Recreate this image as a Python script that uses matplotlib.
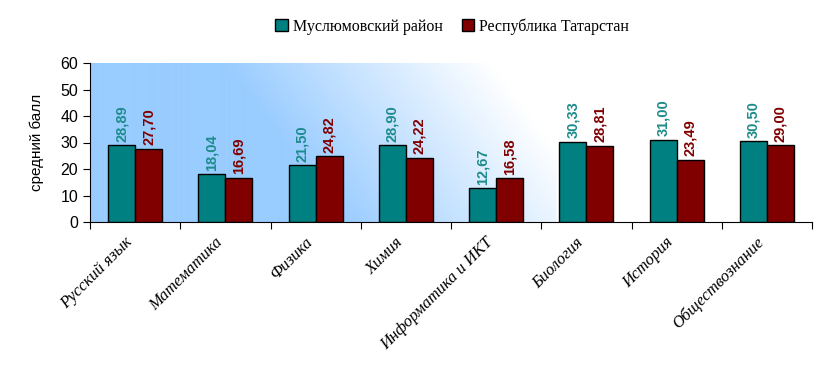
import numpy as np
import matplotlib.pyplot as plt
from matplotlib.colors import LinearSegmentedColormap

subjects = ['Русский язык', 'Математика', 'Физика', 'Химия',
            'Информатика и ИКТ', 'Биология', 'История', 'Обществознание']
district = [28.89, 18.04, 21.50, 28.90, 12.67, 30.33, 31.00, 30.50]
republic = [27.70, 16.69, 24.82, 24.22, 16.58, 28.81, 23.49, 29.00]
series_names = ['Муслюмовский район', 'Республика Татарстан']

teal = '#008080'
maroon = '#800000'

fig = plt.figure(figsize=(8.3, 3.77), dpi=100)
ax = fig.add_axes([90 / 830, 1 - 222 / 377, 722 / 830, 159 / 377])

# background gradient: light blue bottom-left fading to white top-right,
# the filled area stops short of the right part of the plot
W, H = 722, 159
xx, yy = np.meshgrid(np.arange(W), np.arange(H))
s = xx + 0.75 * (H - yy)
t = np.clip((s - 250) / 270, 0, 1)
t[:, 466:] = 1
cmap = LinearSegmentedColormap.from_list('bg', ['#99CCFF', '#FFFFFF'])
ax.imshow(t, cmap=cmap, extent=[0, len(subjects), 0, 60], aspect='auto',
          origin='upper', zorder=0)

x = np.arange(len(subjects)) + 0.5
w = 0.3
ax.bar(x - w / 2, district, w, color=teal, edgecolor='black', linewidth=1,
       label=series_names[0], zorder=2)
ax.bar(x + w / 2, republic, w, color=maroon, edgecolor='black', linewidth=1,
       label=series_names[1], zorder=2)

for xi, v in zip(x - w / 2, district):
    ax.text(xi, v + 1.3, f'{v:.2f}'.replace('.', ','), rotation=90,
            ha='center', va='bottom', color='#1E8C8C', fontweight='bold',
            fontsize=10.5, family='Liberation Sans', zorder=3)
for xi, v in zip(x + w / 2, republic):
    ax.text(xi, v + 1.3, f'{v:.2f}'.replace('.', ','), rotation=90,
            ha='center', va='bottom', color=maroon, fontweight='bold',
            fontsize=10.5, family='Liberation Sans', zorder=3)

ax.set_xlim(0, len(subjects))
ax.set_ylim(0, 60)
ax.set_yticks(range(0, 61, 10))
ax.set_xticks(range(len(subjects) + 1))
ax.set_xticklabels([])
ax.tick_params(axis='x', length=5, direction='out')
ax.tick_params(axis='y', length=5, direction='out', labelsize=11.5)
for lab in ax.get_yticklabels():
    lab.set_family('Liberation Sans')

# category labels, rotated and ending just left of each group centre
for xi, name in zip(x, subjects):
    ax.text(xi - 0.06, -0.115, name, transform=ax.get_xaxis_transform(),
            rotation=45, ha='right', va='center', rotation_mode='anchor',
            fontsize=12, family='Liberation Serif', style='italic')

ax.spines['top'].set_visible(False)
ax.spines['right'].set_visible(False)
ax.set_ylabel('средний балл', family='Liberation Sans', fontsize=11, labelpad=12)

fig.legend(loc='upper center', bbox_to_anchor=(452 / 830, 1 - 4 / 377), ncol=2,
           frameon=False, prop={'family': 'Liberation Serif', 'size': 11.5},
           handlelength=0.8, handleheight=0.8, handletextpad=0.3,
           columnspacing=1.2)

fig.savefig('out.png', dpi=100)
